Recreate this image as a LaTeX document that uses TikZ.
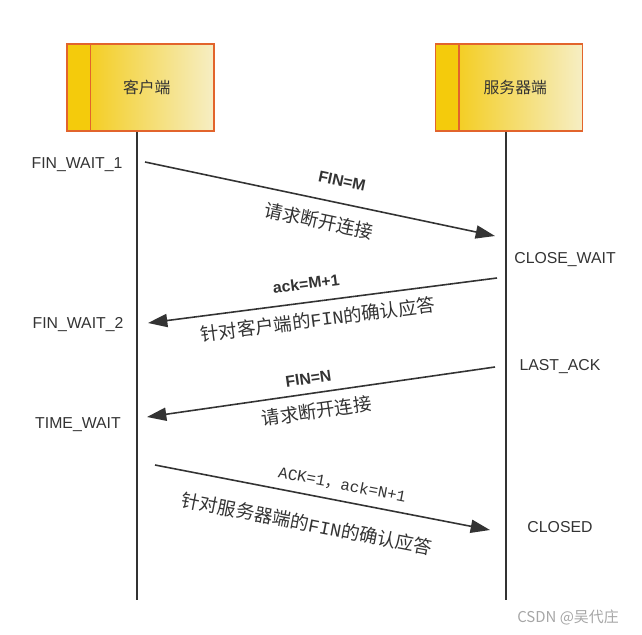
\documentclass[tikz,border=0pt]{standalone}
\usepackage{fontspec}
\setmainfont{Liberation Sans}
\newfontfamily\cjkfont{Noto Sans CJK SC}
\newfontfamily\codefont{Liberation Mono}
\usetikzlibrary{arrows.meta,positioning}
\definecolor{boxedge}{HTML}{E2642C}
\definecolor{boxleft}{HTML}{F3C807}
\definecolor{boxright}{HTML}{F6EEC4}
\definecolor{stripfill}{HTML}{F4CB0C}
\definecolor{inkgray}{HTML}{333333}
\newcommand{\stripw}{0.47cm}
\newcommand{\tipsize}{length=11pt,width=7.5pt}

\tikzset{
    hostbox/.style={draw=boxedge, line width=1pt, left color=boxleft, right color=boxright,
        minimum width=2.94cm, minimum height=1.74cm, text=inkgray,
        font=\cjkfont\fontsize{9}{11}\selectfont,
        path picture={
            \fill[stripfill] (path picture bounding box.north west) rectangle ([xshift=\stripw]path picture bounding box.south west);
            \draw[boxedge, line width=1pt] ([xshift=\stripw]path picture bounding box.north west) -- ([xshift=\stripw]path picture bounding box.south west);
        }},
    lifeline/.style={draw=inkgray, line width=0.8pt},
    msgr/.style={draw=inkgray, line width=0.9pt, -{Triangle[\tipsize]}},
    msgl/.style={draw=inkgray, line width=0.9pt, {Triangle[\tipsize]}-},
    statelabel/.style={text=inkgray, font=\fontsize{9}{11}\selectfont},
    flaglabel/.style={text=inkgray, font=\bfseries\fontsize{9}{11}\selectfont, sloped, inner sep=1pt},
    cjklabel/.style={text=inkgray, font=\cjkfont\fontsize{10.5}{12}\selectfont, sloped, inner sep=1pt},
    codelabel/.style={text=inkgray, font=\codefont\fontsize{9}{11}\selectfont, sloped, inner sep=1pt}
}

\begin{document}
\begin{tikzpicture}[x=0.02cm, y=-0.02cm]
    \useasboundingbox (0,0) rectangle (642,635);

    %Hosts
    \node[hostbox] (client) at (140.5,87.5) {\hspace{0.25cm}客户端};
    \node[hostbox] (server) at (509,87.5) {\hspace{0.25cm}服务器端};

    %Lifelines
    \coordinate (cbot) at (137,600);
    \coordinate (sbot) at (506,600);
    \draw[lifeline] (client.south -| cbot) -- (cbot);
    \draw[lifeline] (server.south -| sbot) -- (sbot);

    %States
    \foreach \nm/\px/\py/\txt in {fwa/77/165/FIN\_WAIT\_1, fwb/78/325/FIN\_WAIT\_2, tw/78/425/TIME\_WAIT,
                                  cw/565/260/CLOSE\_WAIT, la/560/367/LAST\_ACK, cl/560/527/CLOSED} {
        \node[statelabel] (\nm) at (\px,\py) {\txt};
    }

    %Message ends
    \coordinate (m1c) at (145,162);
    \coordinate (m1s) at (495,236);
    \coordinate (m2c) at (148,323);
    \coordinate (m2s) at (497,278);
    \coordinate (m3c) at (147,417);
    \coordinate (m3s) at (495,367);
    \coordinate (m4c) at (155,465);
    \coordinate (m4s) at (490,530);

    %Messages
    \draw[msgr] (m1c) -- (m1s)
        node[flaglabel, pos=0.55, above=8pt] (f1) {FIN=M}
        node[cjklabel, pos=0.51, below=6pt] (t1) {请求断开连接};
    \draw[msgl] (m2c) -- (m2s)
        node[flaglabel, pos=0.46, above=6pt] (f2) {ack=M+1}
        node[cjklabel, pos=0.48, below=4pt] (t2) {针对客户端的{\codefont FIN}的确认应答};
    \draw[msgl] (m3c) -- (m3s)
        node[flaglabel, pos=0.47, above=4pt] (f3) {FIN=N}
        node[cjklabel, pos=0.48, below=4pt] (t3) {请求断开连接};
    \draw[msgr] (m4c) -- (m4s)
        node[codelabel, pos=0.55, above=4pt] (f4) {ACK=1{\cjkfont ，}ack=N+1}
        node[cjklabel, pos=0.47, below=10pt] (t4) {针对服务器端的{\codefont FIN}的确认应答};

    %Watermark
    \node[text=gray!70, font=\cjkfont\fontsize{8.5}{10}\selectfont] (mark) at (568,617) {CSDN @吴代庄};
\end{tikzpicture}
\end{document}
